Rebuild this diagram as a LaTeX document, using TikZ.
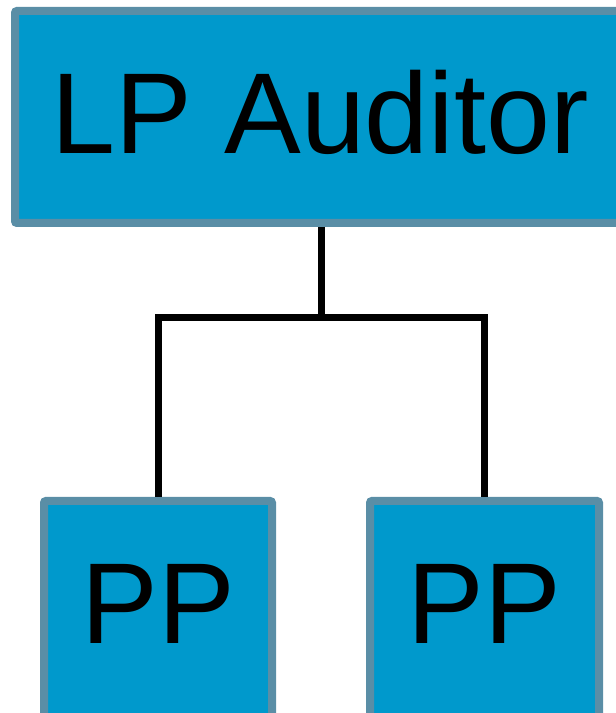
\documentclass[tikz,border=0pt]{standalone}
\usepackage{fontspec}
\setmainfont{Liberation Sans}
\definecolor{boxfill}{HTML}{0099CC}
\definecolor{boxedge}{HTML}{5A8EA6}
\begin{document}
\begin{tikzpicture}[x=1pt,y=1pt,
  orgbox/.style={draw=boxedge, fill=boxfill, line width=8pt, rounded corners=2pt,
                 rectangle, inner sep=0pt},
  orglabel/.style={inner sep=0pt, font=\fontsize{115}{138}\selectfont, text=black},
  link/.style={draw=black, line width=7pt}]
  \useasboundingbox (0,0) rectangle (616,713);
  \clip (0,0) rectangle (616,713);

  % boxes
  \node[orgbox, minimum width=630pt, minimum height=212pt] (top) at (330,596) {};
  \node[orgbox, minimum width=228pt, minimum height=229pt] (left) at (158,97.5) {};
  \node[orgbox, minimum width=229pt, minimum height=229pt] (right) at (484.5,97.5) {};

  % labels
  \node[orglabel, anchor=base west] (toplabel) at (51.6,559) {LP Auditor};
  \node[orglabel, anchor=base] (leftlabel) at (158.5,69.7) {PP};
  \node[orglabel, anchor=base] (rightlabel) at (484.5,69.7) {PP};

  % connectors
  \coordinate (bus) at (321.5,395.5);
  \draw[link] (top.south -| bus) -- (bus);
  \draw[link] (left.north) |- (bus) -| (right.north);
\end{tikzpicture}
\end{document}
